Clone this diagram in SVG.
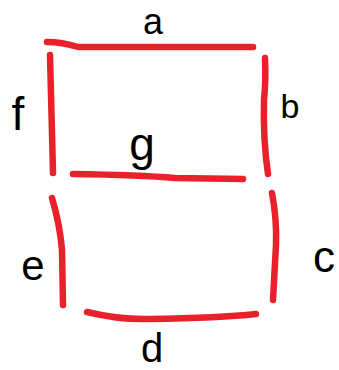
<svg xmlns="http://www.w3.org/2000/svg" width="339" height="370" viewBox="0 0 339 370">
<style>
.seg{fill:none;stroke:#e8212b;stroke-width:6.5;stroke-linecap:round;stroke-linejoin:round}
.lbl{font-family:"Liberation Sans",Arial,sans-serif;fill:#000;text-anchor:middle}
</style>
<rect width="339" height="370" fill="#fff"/>
<g id="connectors">
<g id="seg-a"><path class="seg" d="M47,42 Q62,42 78,47 L253,47"/></g>
<g id="seg-b"><path class="seg" d="M265,58 Q266,80 264,100 Q263,140 268,174"/></g>
<g id="seg-c"><path class="seg" d="M272,193 Q277,220 276,245 L273,300"/></g>
<g id="seg-d"><path class="seg" d="M87,312 Q120,320 150,319 Q220,318 256,314"/></g>
<g id="seg-e"><path class="seg" d="M52,198 Q60,225 62,250 L63,305"/></g>
<g id="seg-f"><path class="seg" d="M50,55 L53,173"/></g>
<g id="seg-g"><path class="seg" d="M73,174 Q140,175 175,178 L243,179"/></g>
</g>
<g id="label-a"><text class="lbl" x="153" y="34" font-size="36">a</text></g>
<g id="label-b"><text class="lbl" x="290" y="118" font-size="34">b</text></g>
<g id="label-c"><text class="lbl" x="324" y="272" font-size="44">c</text></g>
<g id="label-d"><text class="lbl" x="152" y="362" font-size="40">d</text></g>
<g id="label-e"><text class="lbl" x="33" y="280" font-size="42">e</text></g>
<g id="label-f"><text class="lbl" x="18" y="130" font-size="46">f</text></g>
<g id="label-g"><text class="lbl" x="142" y="160" font-size="46">g</text></g>
</svg>
